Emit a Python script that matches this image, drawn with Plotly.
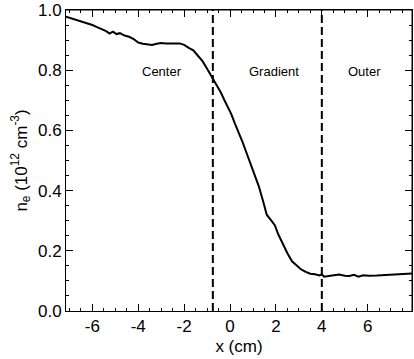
import plotly.graph_objects as go

x_cm = [-7.15, -6.9, -6.6, -6.4, -6.2, -6.0, -5.8, -5.6, -5.4, -5.25, -5.1, -4.95, -4.8, -4.6, -4.4,
        -4.2, -4.0, -3.8, -3.6, -3.4, -3.2, -3.0, -2.8, -2.6, -2.4, -2.2, -2.0, -1.8, -1.6, -1.4,
        -1.2, -1.0, -0.8, -0.6, -0.4, -0.25, -0.1, 0.05, 0.2, 0.4, 0.55, 0.7, 0.9, 1.05, 1.25,
        1.45, 1.6, 1.8, 1.95, 2.1, 2.3, 2.5, 2.7, 2.9, 3.1, 3.3, 3.5, 3.7, 3.9, 4.0, 4.1, 4.3,
        4.5, 4.75, 5.0, 5.2, 5.4, 5.6, 5.8, 6.05, 6.4, 6.8, 7.1, 7.4, 7.7, 7.93]
ne = [0.978, 0.972, 0.967, 0.962, 0.955, 0.950, 0.943, 0.937, 0.930, 0.922, 0.928, 0.920, 0.923,
      0.915, 0.911, 0.903, 0.892, 0.888, 0.886, 0.884, 0.888, 0.890, 0.889, 0.890, 0.889, 0.889,
      0.884, 0.874, 0.866, 0.848, 0.830, 0.805, 0.778, 0.755, 0.726, 0.701, 0.680, 0.655, 0.625,
      0.590, 0.560, 0.529, 0.487, 0.460, 0.415, 0.362, 0.320, 0.300, 0.285, 0.255, 0.222, 0.192,
      0.165, 0.150, 0.138, 0.130, 0.124, 0.122, 0.118, 0.122, 0.114, 0.116, 0.118, 0.121, 0.117,
      0.116, 0.120, 0.114, 0.119, 0.117, 0.118, 0.120, 0.121, 0.123, 0.122, 0.125]

x_range = [-7.15, 7.93]
y_range = [0.0, 1.0]
x_ticks = [-6, -4, -2, 0, 2, 4, 6]
x_ticktext = ["-6", "-4", "-2", "0", "2", "4", "6"]
y_ticks = [0, 0.2, 0.4, 0.6, 0.8, 1.0]
y_ticktext = ["0.0", "0.2", "0.4", "0.6", "0.8", "1.0"]

boundaries = [-0.75, 4.0]
region_labels = ["Center", "Gradient", "Outer"]
region_x = [-2.95, 1.9, 5.85]
region_y = [0.795, 0.795, 0.795]

FONT = "Liberation Sans, Arial, Helvetica, sans-serif"

fig = go.Figure()
fig.add_trace(go.Scatter(x=x_cm, y=ne, mode="lines",
                         line=dict(color="black", width=2), showlegend=False))
# invisible copy so the top/right (mirror) axes get a subplot
fig.add_trace(go.Scatter(x=x_cm, y=ne, mode="lines", xaxis="x2", yaxis="y2",
                         line=dict(color="rgba(0,0,0,0)", width=0), showlegend=False,
                         hoverinfo="skip"))

for b in boundaries:
    fig.add_shape(type="line", x0=b, x1=b, y0=y_range[0], y1=y_range[1], xref="x", yref="y",
                  line=dict(color="black", width=2, dash="8px,4px"))

# top and right frame lines in data coordinates
fig.add_shape(type="line", x0=x_range[0], x1=x_range[1], y0=y_range[1], y1=y_range[1],
              xref="x", yref="y", line=dict(color="black", width=1))
fig.add_shape(type="line", x0=x_range[1], x1=x_range[1], y0=y_range[0], y1=y_range[1],
              xref="x", yref="y", line=dict(color="black", width=1))

for lab, xx, yy in zip(region_labels, region_x, region_y):
    fig.add_annotation(x=xx, y=yy, text=lab, showarrow=False,
                       font=dict(size=13, color="black", family=FONT))

axis_common = dict(showgrid=False, zeroline=False, showline=True, linecolor="black",
                   linewidth=1, ticks="inside", ticklen=7, tickwidth=1,
                   tickcolor="black", tickfont=dict(size=17, color="black", family=FONT))
xminor = dict(ticks="inside", ticklen=3, dtick=0.5, tick0=0, tickcolor="black")
yminor = dict(ticks="inside", ticklen=3, dtick=0.05, tick0=0, tickcolor="black")

fig.update_layout(
    xaxis=dict(range=x_range, tickmode="array", tickvals=x_ticks, ticktext=x_ticktext,
               minor=xminor,
               title=dict(text="x (cm)", font=dict(size=17, color="black", family=FONT), standoff=4),
               **axis_common),
    yaxis=dict(range=y_range, tickmode="array", tickvals=y_ticks, ticktext=y_ticktext,
               minor=yminor,
               title=dict(text="n<sub>e</sub> (10<sup>12</sup> cm<sup>-3</sup>)",
                          font=dict(size=17, color="black", family=FONT), standoff=6),
               **axis_common),
    xaxis2=dict(range=x_range, overlaying="x", side="top", anchor="y2", tickmode="array",
                tickvals=x_ticks, showticklabels=False, minor=xminor, **axis_common),
    yaxis2=dict(range=y_range, overlaying="y", side="right", anchor="x2", tickmode="array",
                tickvals=y_ticks, showticklabels=False, minor=yminor, **axis_common),
    width=414, height=359, margin=dict(l=66, r=2, t=10, b=48),
    plot_bgcolor="white", paper_bgcolor="white",
    font=dict(family=FONT, color="black"))

fig.write_html("out.html", config={"displayModeBar": False},
               post_script="document.body.style.margin='0';document.body.style.overflow='hidden';")
